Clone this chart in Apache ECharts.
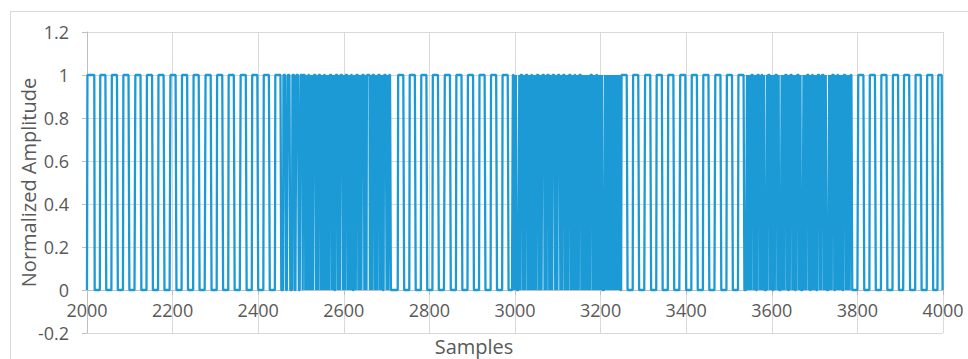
<!DOCTYPE html>
<html>
<head>
<meta charset="utf-8">
<script src="https://cdn.jsdelivr.net/npm/echarts@6/dist/echarts.min.js"></script>
<style>
  html, body { margin: 0; padding: 0; background: #fff; }
  #frame { position: absolute; left: 10px; top: 11px; width: 960px; height: 360px; border: 1px solid #d9d9d9; box-sizing: border-box; }
  #chart { position: absolute; left: 0; top: 0; width: 968px; height: 359px; }
</style>
</head>
<body>
<div id="frame"></div>
<div id="chart"></div>
<script>
// ---- data (run lengths of consecutive samples, alternating 0 / 1, starting at 0) ----
const firstSample = 2000;
const startLevel = 0;
const runsA = [1,17, 13,14, 13,14, 13,14, 14,14, 13,14, 13,14, 14,14, 13,14, 13,14, 14,14, 13,14, 13,14, 14,14, 13,14, 13,14, 13,14];
const runsBurst1 = [5,6, 4,6, 5,5, 4,6, 4,5,
  1,5, 2,1, 1,2,
  1,4, 2,1, 1,1, 1,1,
  2,5, 1,1, 1,2,
  1,5, 2,1, 1,1, 1,1,
  1,4, 1,2, 1,1, 2,1,
  1,5, 2,1, 1,2,
  3,5, 1,1, 1,2,
  1,6, 2,1, 1,1,
  1,5, 1,1, 2,1, 1,1,
  1,4, 3,1, 1,2,
  1,5, 2,1, 1,1, 1,1,
  2,5, 1,1, 1,2,
  1,7, 2,1, 1,1,
  1,5, 1,1, 2,1, 1,1,
  1,5, 2,1, 1,2,
  3,6, 1,1, 1,1,
  2,4];
const runsC = [17,14, 13,14, 13,14, 13,14, 14,14, 13,14, 13,14, 13,14, 13,14, 13,14];
const runsBurst2 = [10,3, 1,2, 1,2, 6,2,
  1,5, 2,1, 1,2,
  1,5, 1,1, 2,1, 1,1,
  1,4, 2,1, 1,2, 1,1,
  1,5, 2,1, 1,2,
  2,5, 1,1, 1,2,
  1,5, 1,1, 2,1, 1,1,
  1,6, 2,1, 1,1,
  1,6, 1,1, 2,1,
  1,5, 2,1, 1,2, 1,1,
  1,5, 1,1, 2,1, 1,1,
  1,4, 2,1, 1,2,
  1,5, 1,1, 1,2, 1,1,
  1,2, 1,1, 2,1, 1,2, 1,1, 1,5, 2,1, 1,2, 1,1, 1,4, 2,1, 1,1,
  1,2, 1,1, 6,2,
  1,1, 2,1, 1,2, 1,1, 1,1, 2,1, 1,2, 1,1, 1,1, 1,2, 1,1, 2,2,
  1,2];
const runsE = [3,14, 13,14, 14,14, 13,14, 13,14, 14,14, 13,14, 13,14, 14,14, 13,14, 13,14];
const runsBurst3 = [6,2, 2,2, 1,2,
  1,5, 2,1, 1,2,
  3,5, 1,1, 1,1,
  1,4, 2,1, 6,1,
  1,5, 2,1, 1,2,
  3,2, 1,5, 1,1,
  1,1, 6,2, 1,1, 2,1,
  1,5, 1,1, 3,1,
  1,5, 2,1, 1,2,
  3,1, 1,5, 1,1, 1,1,
  6,2, 1,1, 2,1,
  1,5, 1,1, 3,1,
  1,4, 2,1, 1,2,
  3,5, 1,1, 1,1,
  1,5, 2,1, 1,2,
  6,2, 1,1, 1,1,
  1,5, 3,1, 1,1,
  1,4, 2,1, 1,2, 1,1,
  3,5, 1,1, 1,1,
  1,2, 1,1, 2,4];
const runsF = [14,14, 13,14, 13,14, 13,14, 12,14, 13,14, 13,14, 12,10, 1];

const xTicks = [2000, 2200, 2400, 2600, 2800, 3000, 3200, 3400, 3600, 3800, 4000];
const yTicks = [-0.2, 0, 0.2, 0.4, 0.6, 0.8, 1, 1.2];
const xTitle = 'Samples';
const yTitle = 'Normalized Amplitude';

// ---- expand runs into one value per sample ----
const allRuns = [].concat(runsA, runsBurst1, runsC, runsBurst2, runsE, runsBurst3, runsF);
const signal = [];
let level = startLevel, sample = firstSample;
for (const r of allRuns) {
  for (let i = 0; i < r; i++) { signal.push([sample, level]); sample++; }
  level = 1 - level;
}

const gridColor = '#d9d9d9';
const textColor = '#595959';
const font = 'Open Sans';

// plot area and position of the y = 0 line (where the horizontal axis crosses)
const plotTop = 32, plotBottom = 333;
const yMin = yTicks[0], yMax = yTicks[yTicks.length - 1];
const zeroOffset = -Math.round((plotBottom - plotTop) * (0 - yMin) / (yMax - yMin));

const chart = echarts.init(document.getElementById('chart'), null, { renderer: 'svg' });
chart.setOption({
  animation: false,
  grid: { left: 87, right: 25, top: plotTop, bottom: 359 - plotBottom, containLabel: false, outerBoundsMode: 'none' },
  xAxis: {
    type: 'value',
    position: 'bottom',
    offset: zeroOffset,
    min: xTicks[0], max: xTicks[xTicks.length - 1], interval: xTicks[1] - xTicks[0],
    name: xTitle, nameLocation: 'middle', nameGap: 46, nameMoveOverlap: false,
    nameTextStyle: { color: textColor, fontSize: 20, fontFamily: font, padding: [0, 82, 0, 0] },
    axisLine: { show: true, onZero: false, lineStyle: { color: '#bfbfbf', width: 1 } },
    axisTick: { show: true, length: 5, lineStyle: { color: '#bfbfbf' } },
    axisLabel: { color: textColor, fontSize: 18, fontFamily: font, margin: 11,
      formatter: v => String(v) },
    splitLine: { show: true, lineStyle: { color: gridColor, width: 1 } }
  },
  yAxis: {
    type: 'value',
    min: yMin, max: yMax, interval: 0.2,
    name: yTitle, nameLocation: 'middle', nameGap: 49, nameMoveOverlap: false,
    nameTextStyle: { color: textColor, fontSize: 20, fontFamily: font },
    axisLine: { show: true, lineStyle: { color: '#bfbfbf', width: 1 } },
    axisTick: { show: true, length: 5, lineStyle: { color: '#bfbfbf' } },
    axisLabel: { color: textColor, fontSize: 18, fontFamily: font, margin: 18,
      formatter: v => String(+v.toFixed(1)) },
    splitLine: { show: true, lineStyle: { color: gridColor, width: 1 } }
  },
  series: [{
    type: 'line',
    data: signal,
    showSymbol: false,
    sampling: null,
    lineStyle: { color: '#1b9ad6', width: 2.3 },
    itemStyle: { color: '#1b9ad6' },
    emphasis: { disabled: true }
  }]
});
</script>
</body>
</html>
